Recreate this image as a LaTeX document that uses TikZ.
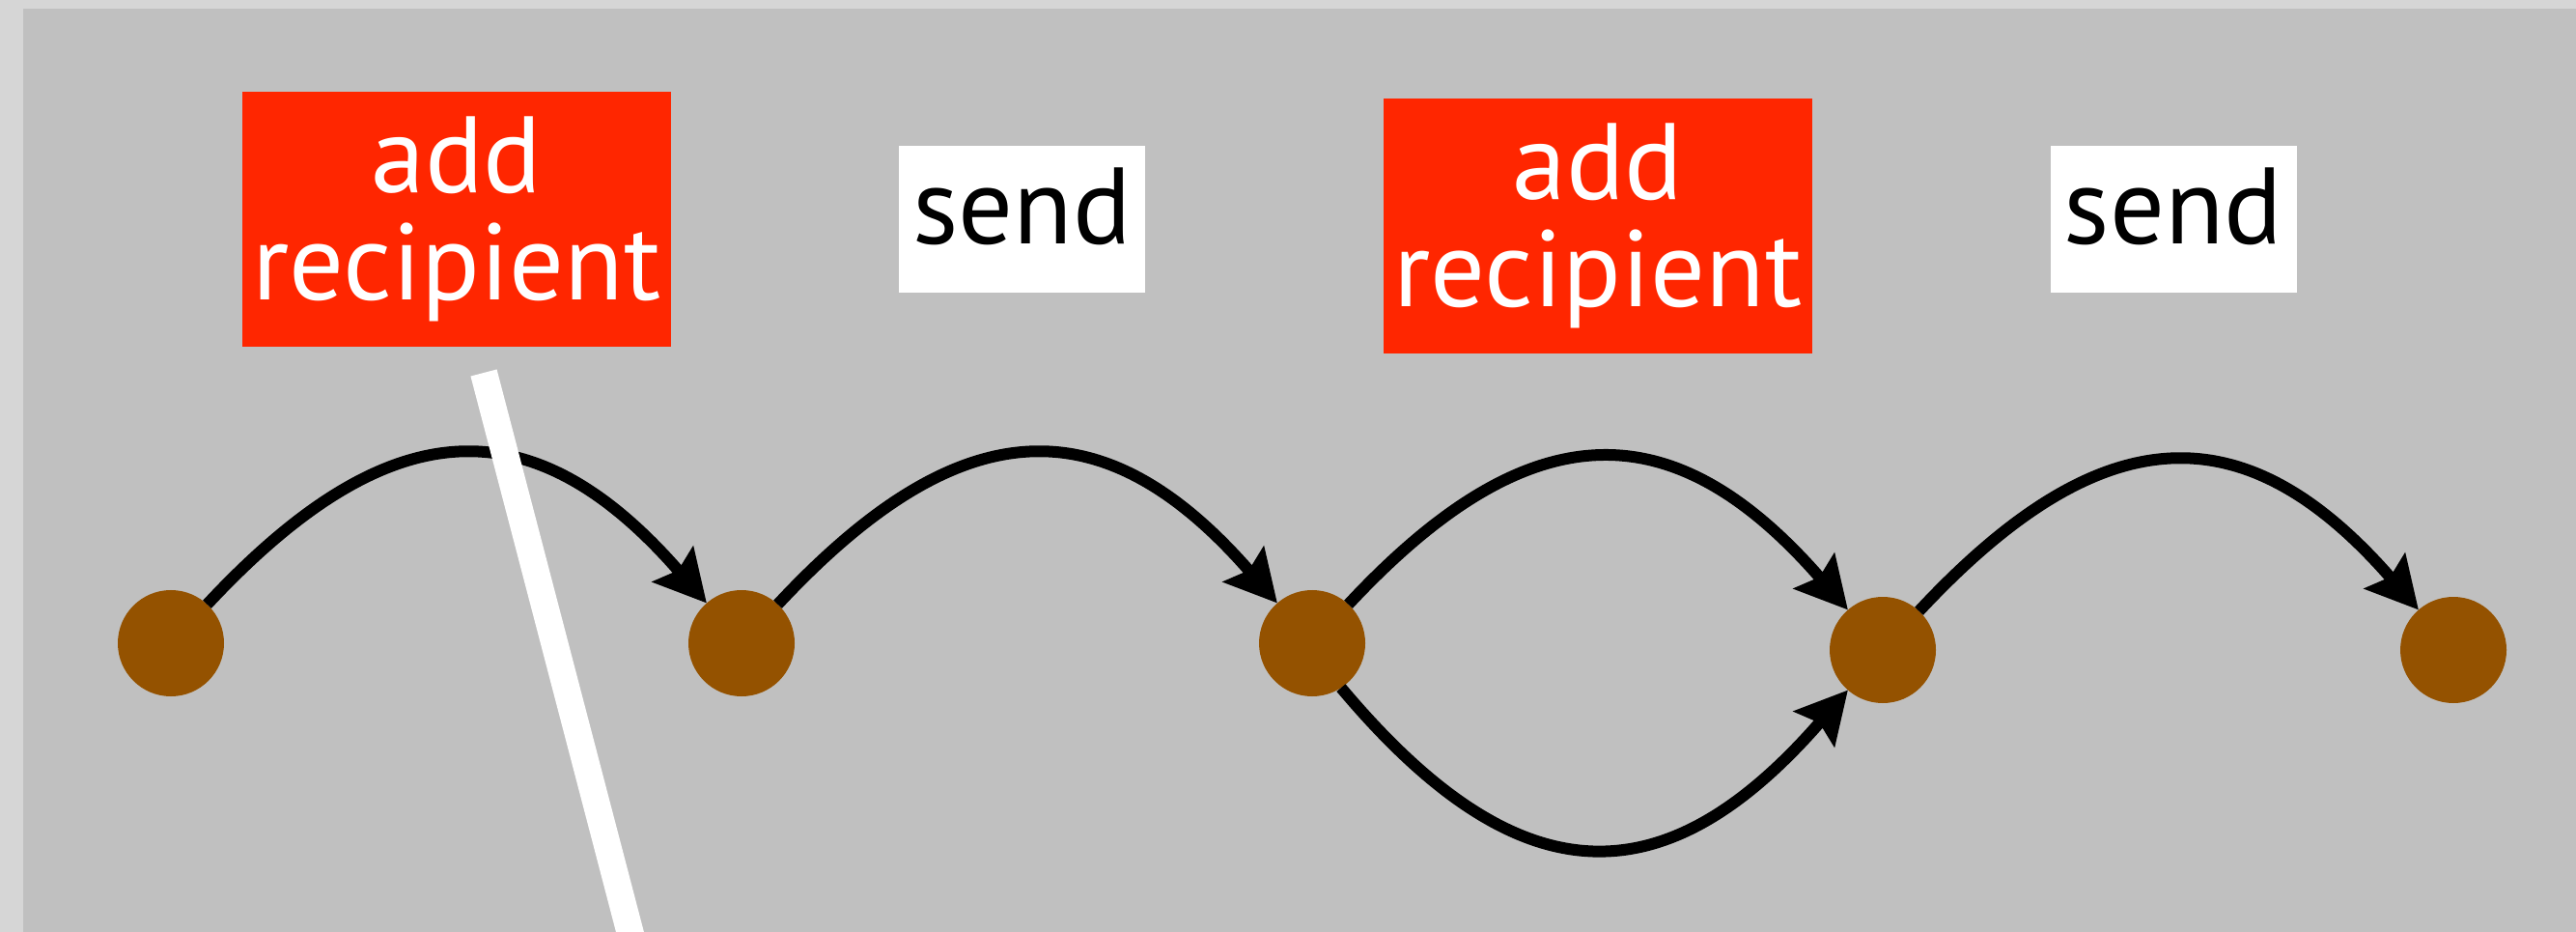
\documentclass[tikz,border=0pt]{standalone}
\usepackage{fontspec}
\usepackage{tikz}
\usetikzlibrary{arrows.meta, positioning}
\setmainfont{PT Sans}
\definecolor{frame}{RGB}{214,214,214}
\definecolor{canvas}{RGB}{192,192,192}
\definecolor{keyred}{RGB}{255,38,0}
\definecolor{mocha}{RGB}{148,82,0}

\begin{document}
\begin{tikzpicture}[
  state/.style={circle,fill=mocha,minimum size=1.1cm,inner sep=0pt,outer sep=0pt},
  addbox/.style={fill=keyred,text=white,minimum width=4.44cm,minimum height=2.64cm,
    inner sep=0pt,align=center,font=\fontsize{32pt}{31.6pt}\selectfont},
  sendbox/.style={fill=white,minimum width=2.55cm,minimum height=1.52cm,
    inner sep=0pt,text depth=0.28cm,font=\fontsize{32pt}{31.6pt}\selectfont},
  hop/.style={-{Stealth[length=0.53cm,width=0.55cm,inset=0.08cm]},line width=0.12cm,looseness=1.36}]

  % background and margins
  \useasboundingbox (0,0) rectangle (26.68,-9.65);
  \fill[frame] (0,0) rectangle (26.68,-9.65);
  \fill[canvas] (0.24,-0.09) rectangle (26.68,-9.65);

  % labels
  \node[addbox](add1) at (4.73,-2.27){add\\recipient};
  \node[sendbox](send1) at (10.585,-2.27){send};
  \node[addbox](add2) at (16.55,-2.34){add\\recipient};
  \node[sendbox](send2) at (22.51,-2.27){send};

  % states
  \node[state](s0) at (1.77,-6.66){};
  \node[state,right=4.81cm of s0](s1){};
  \node[state,right=4.81cm of s1](s2){};
  \node[state,right=4.81cm of s2,yshift=-0.07cm](s3){};
  \node[state,right=4.81cm of s3](s4){};

  \draw[hop](s0) to[out=47,in=131](s1);
  \draw[hop](s1) to[out=47,in=131](s2);
  \draw[hop](s2) to[out=47,in=131](s3);
  \draw[hop](s2.-57) to[out=-50,in=-131,looseness=1.40](s3);
  \draw[hop](s3) to[out=47,in=131](s4);

  % cursor
  \coordinate (cut top) at (5.01,-3.86);
  \coordinate (cut end) at (6.59,-9.90);
  \draw[white,line width=0.28cm](cut top)--(cut end);
\end{tikzpicture}
\end{document}
